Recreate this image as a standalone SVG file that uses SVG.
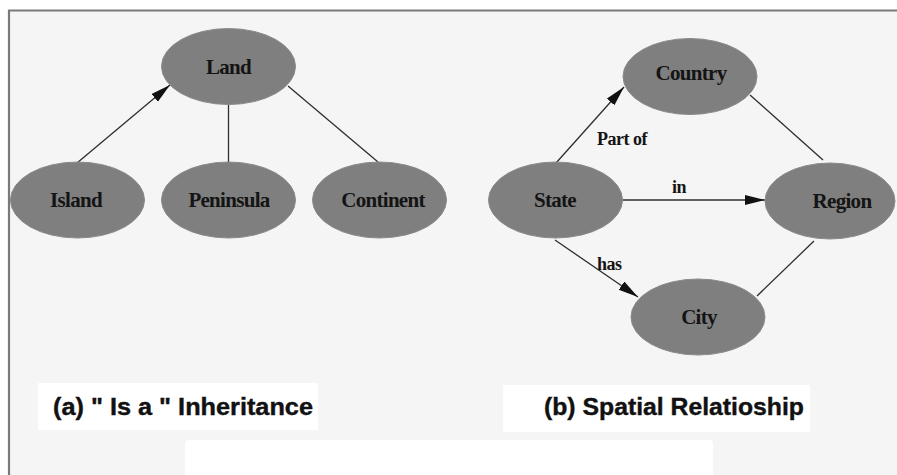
<svg xmlns="http://www.w3.org/2000/svg" width="897" height="475" viewBox="0 0 897 475">
  <style>
    .node ellipse { fill: #7f7f7f; stroke: #8a8a8a; stroke-width: 1; }
    .node text { font-family: "Liberation Serif", "Times New Roman", serif; font-weight: bold; font-size: 21px; fill: #141414; text-anchor: middle; letter-spacing: -0.7px; }
    .edge { stroke: #2e2e2e; stroke-width: 1.3; fill: none; }
    .elabel { font-family: "Liberation Serif", "Times New Roman", serif; font-weight: bold; font-size: 18px; fill: #141414; letter-spacing: -0.5px; }
    .caption { font-family: "Liberation Sans", Arial, sans-serif; font-weight: bold; font-size: 24px; fill: #111; stroke: #111; stroke-width: 0.4; }
  </style>
  <defs>
    <marker id="arrow" markerUnits="userSpaceOnUse" markerWidth="22" markerHeight="12" refX="20" refY="5" orient="auto">
      <path d="M0,0 L20,5 L0,10 Z" fill="#111"/>
    </marker>
  </defs>

  <!-- page and frame -->
  <rect x="0" y="0" width="897" height="475" fill="#ffffff"/>
  <rect x="9" y="11" width="888" height="464" fill="#f5f5f5"/>
  <path d="M9,475 L9,10.5 L897,10.5" fill="none" stroke="#7a7a7a" stroke-width="2.2"/>

  <!-- caption panels -->
  <rect x="38" y="383" width="280" height="47" fill="#ffffff"/>
  <rect x="503" y="385" width="307" height="47" fill="#ffffff"/>
  <rect x="185" y="440" width="528" height="40" rx="4" fill="#ffffff"/>

  <!-- connectors -->
  <g id="connectors">
    <line class="edge" x1="77" y1="163" x2="170" y2="85" marker-end="url(#arrow)"/>
    <line class="edge" x1="228.5" y1="104.5" x2="228.5" y2="162"/>
    <line class="edge" x1="288" y1="86" x2="378" y2="162"/>

    <line class="edge" x1="556" y1="163" x2="624" y2="87" marker-end="url(#arrow)"/>
    <line class="edge" x1="623" y1="200" x2="765" y2="200" marker-end="url(#arrow)"/>
    <line class="edge" x1="555" y1="240" x2="638" y2="297" marker-end="url(#arrow)"/>
    <line class="edge" x1="750" y1="95" x2="823" y2="160"/>
    <line class="edge" x1="814" y1="241" x2="757" y2="296"/>

    <text class="elabel" x="597" y="145">Part of</text>
    <text class="elabel" x="672" y="193">in</text>
    <text class="elabel" x="597" y="270">has</text>
  </g>

  <!-- (a) inheritance tree -->
  <g id="land" class="node">
    <ellipse cx="228.5" cy="66.5" rx="67" ry="38"/>
    <text x="228.5" y="74">Land</text>
  </g>
  <g id="island" class="node">
    <ellipse cx="77.5" cy="200" rx="67" ry="38"/>
    <text x="76" y="207">Island</text>
  </g>
  <g id="peninsula" class="node">
    <ellipse cx="228.5" cy="200" rx="67" ry="38"/>
    <text x="229" y="207">Peninsula</text>
  </g>
  <g id="continent" class="node">
    <ellipse cx="379.5" cy="200" rx="67" ry="38"/>
    <text x="383" y="207">Continent</text>
  </g>

  <!-- (b) spatial relationships -->
  <g id="country" class="node">
    <ellipse cx="690" cy="76.5" rx="67" ry="38"/>
    <text x="691" y="80">Country</text>
  </g>
  <g id="state" class="node">
    <ellipse cx="555.5" cy="200" rx="67" ry="38"/>
    <text x="555" y="207">State</text>
  </g>
  <g id="region" class="node">
    <ellipse cx="830" cy="201" rx="65" ry="38"/>
    <text x="842" y="208">Region</text>
  </g>
  <g id="city" class="node">
    <ellipse cx="698" cy="317" rx="67" ry="38"/>
    <text x="699" y="324">City</text>
  </g>

  <!-- captions -->
  <text class="caption" x="53" y="415" textLength="260" lengthAdjust="spacingAndGlyphs">(a) " Is a " Inheritance</text>
  <text class="caption" x="544" y="415" textLength="260" lengthAdjust="spacingAndGlyphs">(b) Spatial Relatioship</text>
</svg>
